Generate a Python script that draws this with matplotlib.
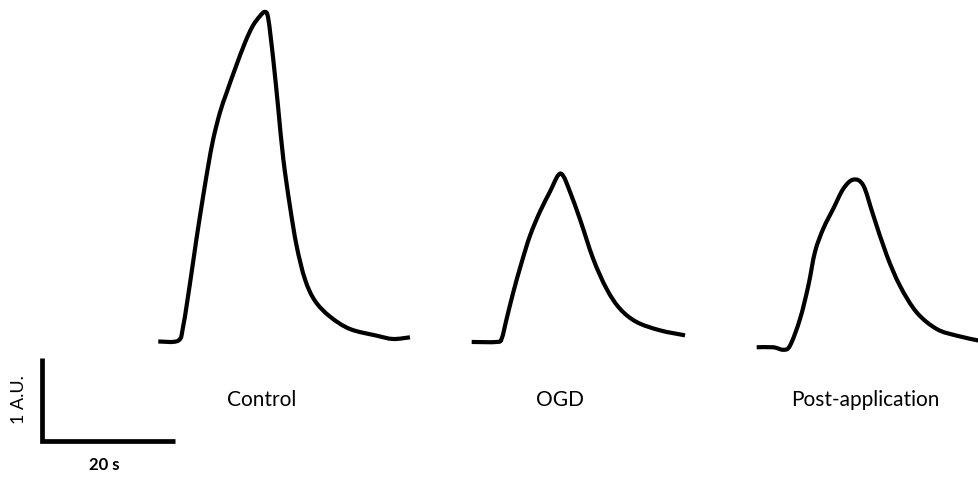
import numpy as np
import matplotlib
matplotlib.use("Agg")
from matplotlib import pyplot as plt
from matplotlib.path import Path
from matplotlib.patches import PathPatch

# Calcium transients, time in s from trace start, amplitude in A.U.
control_t = [0.0, 3.0, 3.76, 4.77, 5.77, 6.77, 7.52, 8.27, 9.28, 10.29, 11.53,
             13.04, 14.2, 15.29, 16.05, 16.54, 17.29, 18.05, 18.80, 19.80,
             20.81, 22.06, 23.56, 25.82, 28.83, 32.84, 35.29, 37.85]
control_a = [0.0, 0.01, 0.19, 0.70, 1.25, 1.76, 2.12, 2.44, 2.76, 3.00, 3.28,
             3.60, 3.80, 3.92, 3.97, 3.89, 3.40, 2.80, 2.20, 1.63,
             1.15, 0.75, 0.49, 0.30, 0.15, 0.07, 0.03, 0.05]

ogd_t = [0.0, 3.76, 4.51, 5.26, 6.26, 7.52, 8.77, 10.27, 11.77, 13.02, 13.77,
         14.78, 16.28, 18.28, 20.29, 22.30, 24.81, 28.32, 32.08]
ogd_a = [0.0, 0.0, 0.04, 0.28, 0.60, 0.96, 1.28, 1.57, 1.81, 2.01, 2.00,
         1.81, 1.48, 1.00, 0.64, 0.40, 0.24, 0.14, 0.08]

post_t = [0.0, 2.50, 4.00, 5.01, 6.51, 7.76, 8.77, 10.02, 11.52, 13.03, 14.53,
          16.03, 17.53, 19.55, 21.55, 24.06, 27.07, 30.08, 33.43]
post_a = [0.0, 0.0, -0.03, 0.02, 0.34, 0.74, 1.15, 1.43, 1.67, 1.91, 2.02,
          1.95, 1.59, 1.11, 0.74, 0.42, 0.22, 0.14, 0.08]

labels = ["Control", "OGD", "Post-application"]

# where each trace sits on the canvas (s, A.U.)
starts = [17.53, 64.66, 107.52]
baselines = [1.205, 1.199, 1.135]
label_x = [33.1, 77.9, 123.9]


def smooth_path(x, y):
    # Catmull-Rom through the samples, written as cubic Bezier segments
    p = np.column_stack([x, y])
    p = np.vstack([p[0], p, p[-1]])
    verts = [p[1]]
    codes = [Path.MOVETO]
    for i in range(1, len(p) - 2):
        c1 = p[i] + (p[i + 1] - p[i - 1]) / 6.0
        c2 = p[i + 1] - (p[i + 2] - p[i]) / 6.0
        verts += [c1, c2, p[i + 1]]
        codes += [Path.CURVE4] * 3
    return Path(verts, codes)


fig = plt.figure(figsize=(9.79, 4.81), dpi=100)
ax = fig.add_axes([0, 0, 1, 1])
ax.set_xlim(-6.27, 140.95)
ax.set_ylim(-0.464, 5.331)
ax.axis("off")

traces = [(control_t, control_a), (ogd_t, ogd_a), (post_t, post_a)]
for (t, a), x0, y0 in zip(traces, starts, baselines):
    path = smooth_path(np.array(t) + x0, np.array(a) + y0)
    ax.add_patch(PathPatch(path, facecolor="none", edgecolor="black",
                           lw=3.0, joinstyle="round", capstyle="butt"))

for name, lx in zip(labels, label_x):
    ax.text(lx, 0.515, name, ha="center", va="center", fontsize=15,
            family="Lato")

# scale bar: 20 s by 1 A.U.
ax.plot([0, 0, 20], [1.0, 0, 0], color="black", lw=3.4,
        solid_joinstyle="miter", solid_capstyle="butt")
ax.text(-3.35, 0.52, "1 A.U.", rotation=90, ha="center", va="center",
        fontsize=13, family="Lato")
ax.text(9.4, -0.27, "20 s", ha="center", va="center", fontsize=12,
        fontweight="bold", family="Lato")

fig.savefig("out.png", dpi=100)
